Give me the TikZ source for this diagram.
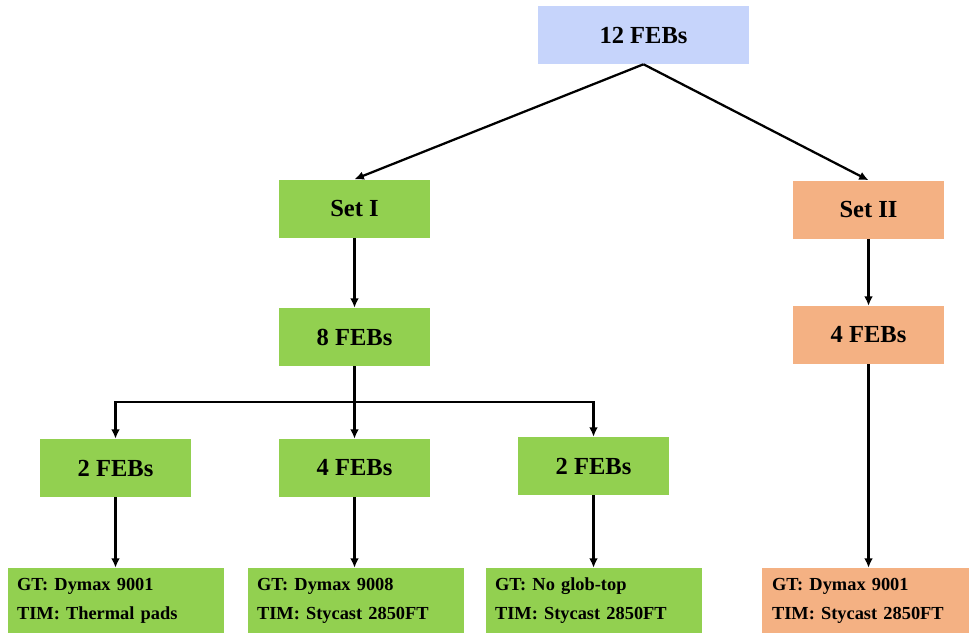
\documentclass[tikz,border=0pt]{standalone}
\usepackage{fontspec}
\setmainfont{Liberation Serif}
\usetikzlibrary{arrows.meta}
\definecolor{gbox}{HTML}{92D050}
\definecolor{obox}{HTML}{F4B183}
\definecolor{bbox}{HTML}{C6D4FB}
\begin{document}
\begin{tikzpicture}[x=0.75pt,y=-0.75pt,
  box/.style={fill=#1, draw=none, minimum width=113.25pt, minimum height=43.5pt, inner sep=0pt,
    font=\fontsize{18.4}{22}\selectfont\bfseries},
  leaf/.style={fill=#1, draw=none, minimum width=162pt, minimum height=48.75pt, inner xsep=6.75pt,
    text width=148.5pt, align=left, font=\fontsize{13.8}{21.75}\selectfont\bfseries},
  conn/.style={line width=1.7pt, -{Latex[length=7pt,width=6.5pt]}}]
\useasboundingbox (0,0) rectangle (969,633);
\node[box=bbox, minimum width=158.25pt] (top) at (643.5,35) {12 FEBs};
\node[box=gbox] (set1) at (354.5,208.5) {Set I};
\node[box=obox] (set2) at (868.5,209.5) {Set II};
\node[box=gbox] (f8) at (354.5,337) {8 FEBs};
\node[box=obox] (f4r) at (868.5,335) {4 FEBs};
\node[box=gbox] (f2l) at (115.5,468) {2 FEBs};
\node[box=gbox] (f4m) at (354.5,468) {4 FEBs};
\node[box=gbox] (f2r) at (593.5,466) {2 FEBs};
\node[leaf=gbox] (l1) at (116,600.5) {GT: Dymax 9001\\TIM: Thermal pads};
\node[leaf=gbox] (l2) at (356,600.5) {GT: Dymax 9008\\TIM: Stycast 2850FT};
\node[leaf=gbox] (l3) at (594,600.5) {GT: No glob-top\\TIM: Stycast 2850FT};
\node[leaf=obox, minimum width=155.25pt, inner xsep=7.5pt, text width=140.25pt] (l4) at (865.5,600.5) {GT: Dymax 9001\\TIM: Stycast 2850FT};
\coordinate (bus) at (354.5,402);
\draw[conn] (top.south) -- (set1.north);
\draw[conn] (top.south) -- (set2.north);
\draw[conn] (set1) -- (f8);
\draw[conn] (set2) -- (f4r);
\draw[conn] (f8) -- (f4m);
\draw[conn] (bus) -| (f2l.north);
\draw[conn] (bus) -| (f2r.north);
\draw[conn] (f2l) -- (f2l.south |- l1.north);
\draw[conn] (f4m) -- (f4m.south |- l2.north);
\draw[conn] (f2r) -- (f2r.south |- l3.north);
\draw[conn] (f4r) -- (f4r.south |- l4.north);
\end{tikzpicture}
\end{document}
